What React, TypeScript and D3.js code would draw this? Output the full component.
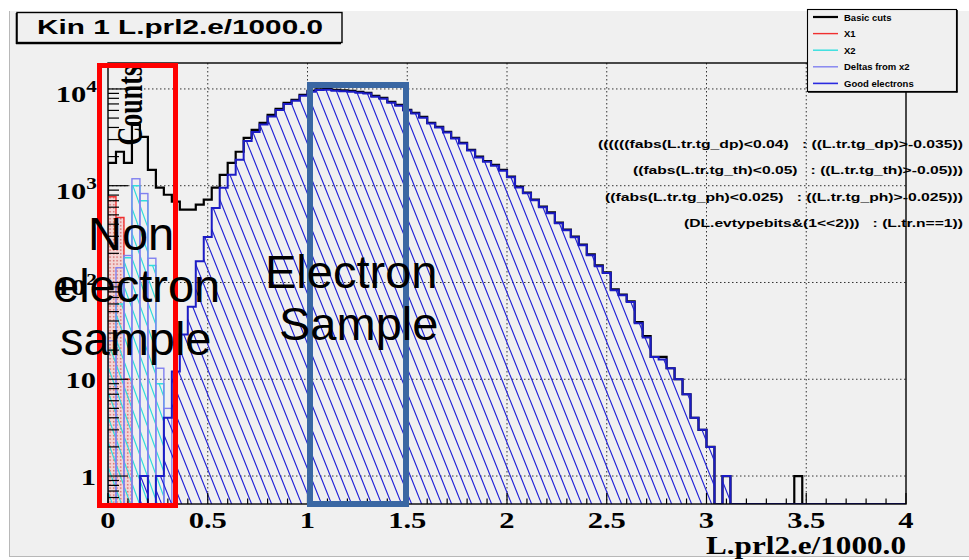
import React from 'react';
import * as d3 from 'd3';

// ---------- data ----------
const xDomain = [0, 4];
const nBins = 100;
const yDomain = [0.514, 18540];

const basicCuts = [
  1725, 2245, 1725, 4250, 3200, 1460, 955, 807, 684, 566,
  566, 637, 718, 955, 1297, 1725, 2245, 3125, 3775, 4470,
  5400, 6220, 7180, 7710, 8670, 9540, 9930, 10000, 9760, 9650,
  9540, 9310, 9100, 8470, 8080, 7350, 6840, 6080, 5660, 5140,
  4470, 4060, 3600, 3125, 2780, 2350, 2000, 1800, 1640, 1460,
  1240, 980, 850, 720, 610, 530, 416, 352, 298, 246,
  195, 150, 127, 85, 75, 64, 39, 28, 17, 17,
  13, 10, 7, 4, 3, 2, 0, 1, 0, 0,
  0, 0, 0, 0, 0, 0, 1, 0, 0, 0,
  0, 0, 0, 0, 0, 0, 0, 0, 0, 0,
];

const goodElectrons = [
  0, 0, 0, 0, 1, 0, 1, 4, 12, 29,
  56, 166, 296, 590, 955, 1300, 1860, 2900, 3600, 4300,
  5200, 6050, 7000, 7550, 8500, 9350, 9750, 9820, 9600, 9480,
  9380, 9150, 8950, 8330, 7940, 7220, 6720, 5980, 5560, 5050,
  4390, 3990, 3540, 3070, 2730, 2310, 1960, 1770, 1610, 1430,
  1220, 960, 835, 708, 600, 520, 409, 346, 293, 242,
  191, 147, 125, 83, 74, 63, 38, 27, 17, 16,
  13, 10, 7, 4, 3, 2, 0, 1, 0, 0,
  0, 0, 0, 0, 0, 0, 0, 0, 0, 0,
  0, 0, 0, 0, 0, 0, 0, 0, 0, 0,
];

const x1Counts = [770, 470, 10];
const x2Counts = [20, 60, 180, 1000, 700, 150, 9];
const deltasCounts = [25, 142, 190, 1180, 830, 178, 13, 5];

const xTickLabels = ['0', '0.5', '1', '1.5', '2', '2.5', '3', '3.5', '4'];
const yTickValues = [1, 10, 100, 1000, 10000];
const legendLabels = ['Basic cuts', 'X1', 'X2', 'Deltas from x2', 'Good electrons'];
const cutLines = [
  '((((((fabs(L.tr.tg_dp)<0.04)   : ((L.tr.tg_dp)>-0.035))',
  '((fabs(L.tr.tg_th)<0.05)   : ((L.tr.tg_th)>-0.05)))',
  '((fabs(L.tr.tg_ph)<0.025)   : ((L.tr.tg_ph)>-0.025)))',
  '(DL.evtypebits&(1<<2)))   : (L.tr.n==1))',
];
const titleText = 'Kin 1 L.prl2.e/1000.0';
const xTitle = 'L.prl2.e/1000.0';
const yTitle = 'Counts';

// ---------- styles ----------
const BG = '#f0f0f0';
const SERIF = "'Liberation Serif','Times New Roman',serif";
const SANS = "'Liberation Sans',Arial,Helvetica,sans-serif";
const legendColors = ['#000000', '#f03030', '#30dede', '#8080f0', '#2a2ae0'];
const legendWidths = [2.2, 1.4, 1.4, 1.4, 1.6];
const cutLengths = [365, 330, 358, 279];

const frame = { left: 108, right: 906, top: 63, bottom: 504 };

const xScale = d3.scaleLinear().domain(xDomain).range([frame.left, frame.right]);
const yScale = d3.scaleLog().domain(yDomain).range([frame.bottom, frame.top]).clamp(true);
const binW = (xDomain[1] - xDomain[0]) / nBins;
const edge = (b: number) => xScale(xDomain[0] + b * binW);
const yOf = (c: number) => (c > 0 ? yScale(c) : frame.bottom);

function stepPoints(counts: number[], start: number): [number, number][] {
  const pts: [number, number][] = [[edge(start), frame.bottom]];
  counts.forEach((c, k) => {
    const y = yOf(c);
    pts.push([edge(start + k), y], [edge(start + k + 1), y]);
  });
  pts.push([edge(start + counts.length), frame.bottom]);
  return pts;
}
const lineGen = d3.line();

export default function App() {
  const blackPts = stepPoints(basicCuts, 0);
  const bluePts = stepPoints(goodElectrons, 0);
  const redPts = stepPoints(x1Counts, 0);
  const cyanPts = stepPoints(x2Counts, 0);

  const yTicks = yScale.ticks();
  const xTicks = xScale.ticks(40);
  const isDecade = (t: number) => Math.abs(Math.log10(t) - Math.round(Math.log10(t))) < 1e-9;
  const isHalf = (t: number) => Math.abs(t * 2 - Math.round(t * 2)) < 1e-9;

  return (
    <div style={{ position: 'absolute', left: 0, top: 0 }}>
      <svg width={969} height={560} style={{ display: 'block', background: '#fff' }}>
        <defs>
          <pattern id="hatchBlue" patternUnits="userSpaceOnUse" width={10} height={25}>
            <path d="M-10,0L0,25M0,0L10,25M10,0L20,25" stroke="#2323d6" strokeWidth={1.2} />
          </pattern>
          <pattern id="hatchCyan" patternUnits="userSpaceOnUse" width={9} height={25} x={3}>
            <path d="M-9,0L0,25M0,0L9,25M9,0L18,25" stroke="#2fdcdc" strokeWidth={1.2} />
          </pattern>
          <pattern id="dotsRed" patternUnits="userSpaceOnUse" width={3.5} height={3.5}>
            <rect width={3.5} height={3.5} fill="#f3d6d6" />
            <rect x={1} y={1} width={1.3} height={1.3} fill="#d04848" />
          </pattern>
          <clipPath id="frameClip">
            <rect x={frame.left} y={frame.top} width={frame.right - frame.left} height={frame.bottom - frame.top} />
          </clipPath>
        </defs>

        {/* canvas */}
        <rect x={9} y={11} width={960} height={546} fill={BG} />
        <line x1={9.5} y1={11} x2={9.5} y2={557} stroke="#b8b8b8" />
        <line x1={9} y1={556.5} x2={969} y2={556.5} stroke="#b8b8b8" />

        {/* grid */}
        <g stroke="#333" strokeWidth={1} strokeDasharray="1.5,2.5">
          {xTicks.filter(t => isHalf(t) && t > xDomain[0] && t < xDomain[1]).map(t => (
            <line key={'gx' + t} x1={xScale(t)} x2={xScale(t)} y1={frame.top} y2={frame.bottom} />
          ))}
          {yTickValues.map(v => (
            <line key={'gy' + v} x1={frame.left} x2={frame.right} y1={yScale(v)} y2={yScale(v)} />
          ))}
        </g>

        {/* histograms */}
        <g clipPath="url(#frameClip)">
          <path d={lineGen(blackPts) || ''} fill="none" stroke="#000" strokeWidth={2.2} />
          <path d={(lineGen(redPts) || '') + 'Z'} fill="url(#dotsRed)" stroke="#f03030" strokeWidth={1.4} />
          <path d={(lineGen(cyanPts) || '') + 'Z'} fill="url(#hatchCyan)" stroke="#30dede" strokeWidth={1.4} />
          {deltasCounts.map((c, k) => (
            <rect key={'d' + k} x={edge(k)} y={yOf(c)} width={edge(k + 1) - edge(k)} height={frame.bottom - yOf(c)}
              fill="none" stroke="#8080f0" strokeWidth={1.4} />
          ))}
          <path d={(lineGen(bluePts) || '') + 'Z'} fill="url(#hatchBlue)" stroke="none" />
          <path d={lineGen(bluePts) || ''} fill="none" stroke="#1c1cc4" strokeWidth={2} />
        </g>

        {/* frame and axes */}
        <rect x={frame.left} y={frame.top} width={frame.right - frame.left} height={frame.bottom - frame.top}
          fill="none" stroke="#000" strokeWidth={1.4} />
        <g stroke="#000" strokeWidth={1.2}>
          {xTicks.map(t => (
            <line key={'tx' + t} x1={xScale(t)} x2={xScale(t)} y1={frame.bottom} y2={frame.bottom - (isHalf(t) ? 11 : 5.5)} />
          ))}
          {yTicks.map(t => (
            <line key={'ty' + t} x1={frame.left} x2={frame.left + (isDecade(t) ? 20 : 11)} y1={yScale(t)} y2={yScale(t)} />
          ))}
        </g>

        {/* x tick labels */}
        {xTickLabels.map(l => (
          <text key={'xl' + l} transform={`translate(${xScale(parseFloat(l))},528) scale(1.33,1)`}
            textAnchor="middle" fontFamily={SERIF} fontWeight="bold" fontSize={23} fill="#000">{l}</text>
        ))}
        {/* y tick labels */}
        {yTickValues.map(v => {
          const e = Math.round(Math.log10(v));
          const y = yScale(v);
          if (e < 2) {
            return (
              <text key={'yl' + v} transform={`translate(96,${y + 9}) scale(1.33,1)`} textAnchor="end"
                fontFamily={SERIF} fontWeight="bold" fontSize={23} fill="#000">{String(v)}</text>
            );
          }
          return (
            <text key={'yl' + v} transform={`translate(97,${y + 13}) scale(1.33,1)`} textAnchor="end"
              fontFamily={SERIF} fontWeight="bold" fontSize={23} fill="#000">
              10<tspan dy={-10} fontSize={16}>{String(e)}</tspan>
            </text>
          );
        })}

        {/* axis titles */}
        <text x={906} y={554} textAnchor="end" fontFamily={SERIF} fontWeight="bold" fontSize={25}
          textLength={200} lengthAdjust="spacingAndGlyphs" fill="#000">{xTitle}</text>
        <text transform="translate(142,66) scale(1.35,1) rotate(-90)" textAnchor="end" fontFamily={SERIF}
          fontWeight="bold" fontSize={26} fill="#000">{yTitle}</text>

        {/* title box */}
        <rect x={17} y={12.5} width={325} height={30} fill={BG} stroke="#000" strokeWidth={1.4} />
        <line x1={16.5} y1={13} x2={16.5} y2={44} stroke="#000" strokeWidth={1.6} />
        <line x1={16} y1={43.5} x2={341} y2={43.5} stroke="#000" strokeWidth={1.6} />
        <text x={37} y={34} fontFamily={SANS} fontWeight="bold" fontSize={21} textLength={286}
          lengthAdjust="spacingAndGlyphs" fill="#000">{titleText}</text>

        {/* legend */}
        <rect x={807.5} y={9.5} width={149} height={82} fill={BG} stroke="#000" strokeWidth={1.1} />
        <line x1={957} y1={10} x2={957} y2={92.5} stroke="#000" strokeWidth={1.6} />
        <line x1={808} y1={92} x2={957.5} y2={92} stroke="#000" strokeWidth={1.6} />
        {legendLabels.map((l, i) => {
          const y = 17 + i * 16.6;
          return (
            <g key={'lg' + l}>
              <line x1={813} x2={838} y1={y} y2={y} stroke={legendColors[i]} strokeWidth={legendWidths[i]} />
              <text x={844} y={y + 3.5} fontFamily={SANS} fontWeight="bold" fontSize={9.5} fill="#000">{l}</text>
            </g>
          );
        })}

        {/* cut text */}
        {cutLines.map((l, i) => (
          <text key={'c' + i} x={963} y={147.5 + i * 26.5} textAnchor="end" fontFamily={SANS} fontWeight="bold"
            fontSize={11.5} textLength={cutLengths[i]} lengthAdjust="spacingAndGlyphs" fill="#000"
            style={{ whiteSpace: 'pre' }}>{l}</text>
        ))}

        {/* annotation boxes */}
        <rect x={99.5} y={65.5} width={76} height={440} fill="none" stroke="#ff0000" strokeWidth={5} />
        <rect x={310} y={85} width={96} height={419} fill="none" stroke="#3a67a3" strokeWidth={6} />

        {/* annotation texts */}
        <g fontFamily={SANS} fontSize={47} fill="#000">
          <text x={88} y={250}>Non</text>
          <text x={53} y={302}>electron</text>
          <text x={60} y={355}>sample</text>
          <text x={265} y={288}>Electron</text>
          <text x={279} y={340}>Sample</text>
        </g>
      </svg>
    </div>
  );
}
